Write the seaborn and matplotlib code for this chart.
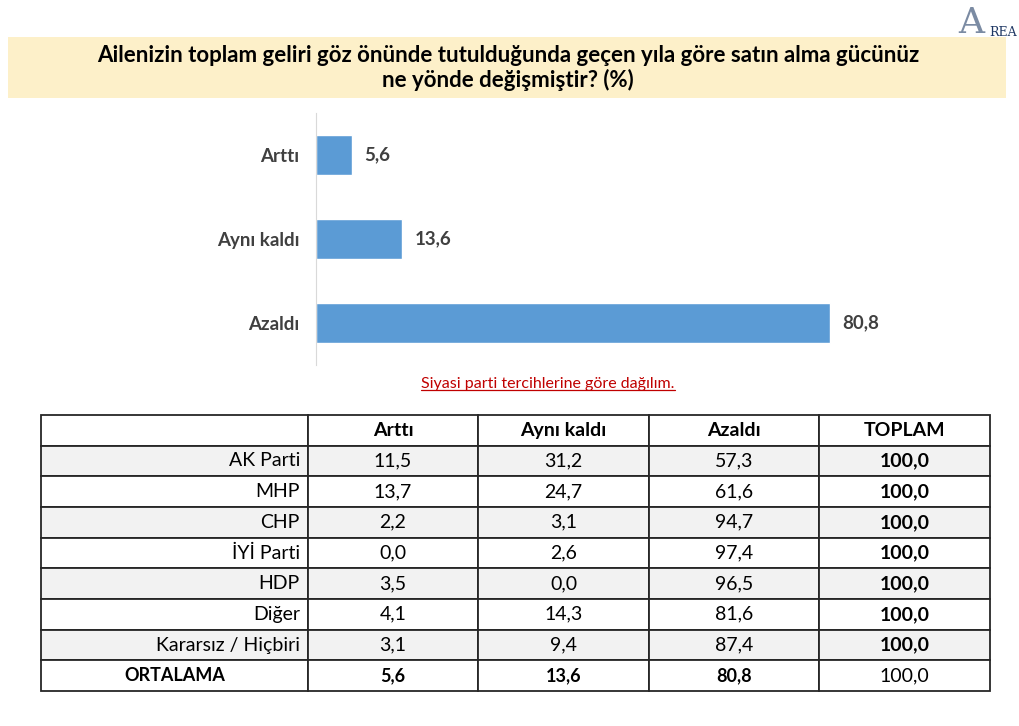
import numpy as np
import pandas as pd
import seaborn as sns
import matplotlib.pyplot as plt
from matplotlib.patches import Rectangle
from matplotlib.lines import Line2D

# data
answers = ["Arttı", "Aynı kaldı", "Azaldı"]
answer_pct = [5.6, 13.6, 80.8]

parties = ["AK Parti", "MHP", "CHP", "İYİ Parti", "HDP", "Diğer", "Kararsız / Hiçbiri", "ORTALAMA"]
artti = [11.5, 13.7, 2.2, 0.0, 3.5, 4.1, 3.1, 5.6]
ayni = [31.2, 24.7, 3.1, 2.6, 0.0, 14.3, 9.4, 13.6]
azaldi = [57.3, 61.6, 94.7, 97.4, 96.5, 81.6, 87.4, 80.8]
toplam = [100.0] * 8
table_cols = ["", "Arttı", "Aynı kaldı", "Azaldı", "TOPLAM"]

def tr(v):
    return f"{v:.1f}".replace(".", ",")

sns.set_style("white")
plt.rcParams['font.family'] = ['Lato', 'DejaVu Sans']

fig = plt.figure(figsize=(10.2, 7.26), dpi=100)

# title banner
fig.patches.append(Rectangle((8 / 1020, 1 - 98 / 726), 998 / 1020, 61 / 726,
                             transform=fig.transFigure, facecolor="#fdf0c9",
                             edgecolor="none", zorder=0))
fig.text(508 / 1020, 1 - 68 / 726,
         "Ailenizin toplam geliri göz önünde tutulduğunda geçen yıla göre satın alma gücünüz\nne yönde değişmiştir? (%)",
         ha="center", va="center", fontsize=16, fontweight="bold", color="black",
         linespacing=1.2)

# logo
fig.text(0.952, 0.968, "A", fontsize=26, color="#5a6e8c", family="DejaVu Serif",
         ha="center", va="center", alpha=0.8)
fig.text(0.983, 0.955, "REA", fontsize=9, color="#1f3864", family="DejaVu Serif",
         ha="center", va="center")

# bar chart
ax = fig.add_axes([316 / 1020, 1 - 365 / 726, 636 / 1020, 252 / 726])
df = pd.DataFrame({"cevap": answers, "oran": answer_pct})
sns.barplot(data=df, x="oran", y="cevap", orient="h", color="#5b9bd5",
            width=0.476, saturation=1, ax=ax)
ax.set_xlim(0, 100)
ax.set_ylim(2.5, -0.5)
ax.bar_label(ax.containers[0], labels=[tr(v) for v in answer_pct], padding=9,
             fontsize=13.5, fontweight="bold", color="#404040")
ax.set_xlabel("")
ax.set_ylabel("")
ax.set_xticks([])
ax.tick_params(axis="y", which="major", length=0, pad=12, labelsize=13.5,
               labelcolor="#404040")
for lbl in ax.get_yticklabels():
    lbl.set_fontweight("bold")
ax.set_yticks([0.5, 1.5], minor=True)
ax.tick_params(axis="y", which="minor", length=5, color="#d9d9d9", width=1)
for s in ["top", "right", "bottom"]:
    ax.spines[s].set_visible(False)
ax.spines["left"].set_color("#d9d9d9")

# subtitle underlined
sub = fig.text(548 / 1020, 1 - 384 / 726, "Siyasi parti tercihlerine göre dağılım.",
               ha="center", va="center", fontsize=11.5, color="#c00000")
fig.canvas.draw()
bb = sub.get_window_extent().transformed(fig.transFigure.inverted())
fig.add_artist(Line2D([bb.x0, bb.x1], [bb.y0 + 0.002, bb.y0 + 0.002],
                      transform=fig.transFigure, color="#c00000", lw=0.9))

# table
tax = fig.add_axes([41 / 1020, 1 - 691 / 726, 949 / 1020, 276 / 726])
tax.axis("off")
cell_text = [[p, tr(a), tr(b), tr(c), tr(t)]
             for p, a, b, c, t in zip(parties, artti, ayni, azaldi, toplam)]
widths = np.array([267, 170, 171, 170, 171]) / 949
tbl = tax.table(cellText=cell_text, colLabels=table_cols, colWidths=widths,
                bbox=[0, 0, 1, 1], cellLoc="center")
tbl.auto_set_font_size(False)
n_rows = len(parties)
for (r, c), cell in tbl.get_celld().items():
    cell.set_edgecolor("#262626")
    cell.set_linewidth(1.3)
    cell.set_text_props(fontsize=14, color="black")
    if r == 0:
        cell.set_facecolor("white")
        cell.get_text().set_fontweight("bold")
        cell.get_text().set_fontsize(14)
        continue
    shaded = (r % 2 == 1) and r <= 7
    cell.set_facecolor("#f2f2f2" if shaded else "white")
    if c == 0 and r < n_rows:
        cell._loc = "right"
        cell.PAD = 0.03
        cell.get_text().set_horizontalalignment("right")
    if r == n_rows and c < 4:
        cell.get_text().set_fontweight("bold")
        cell.get_text().set_fontsize(13)
    if c == 4 and r < n_rows:
        cell.get_text().set_fontweight("bold")

fig.savefig("out.png", dpi=100)
